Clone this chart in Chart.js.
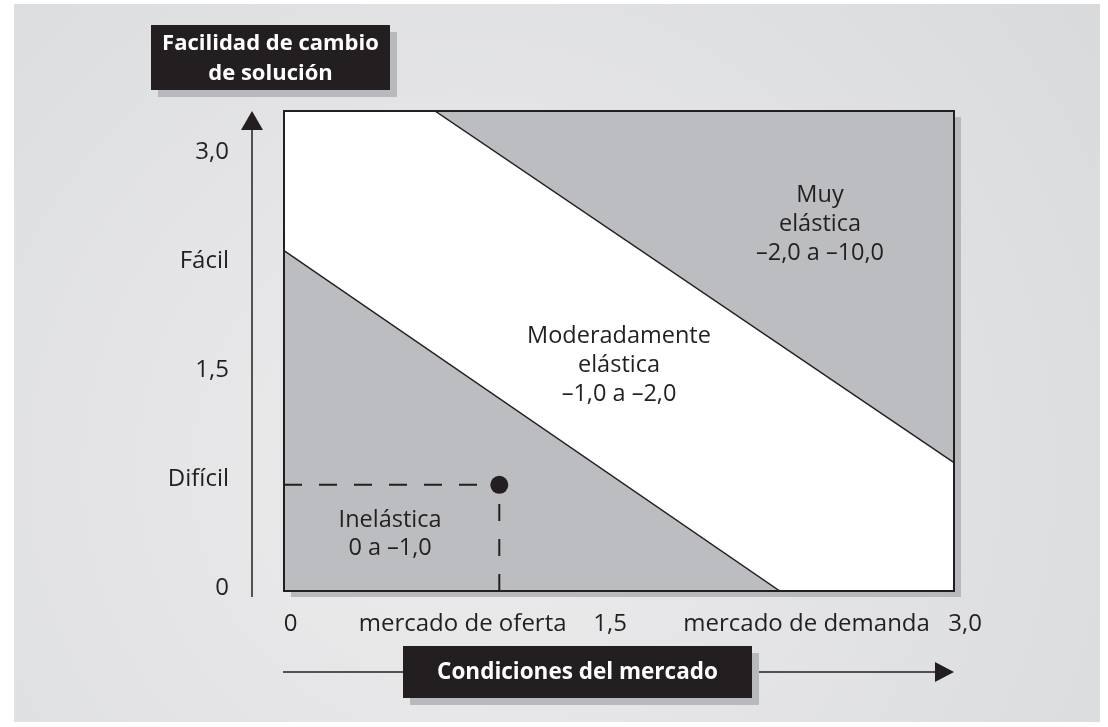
<!DOCTYPE html>
<html>
<head>
<meta charset="utf-8">
<script src="https://cdn.jsdelivr.net/npm/chart.js@4.4.0/dist/chart.umd.min.js"></script>
<style>
  html,body{margin:0;padding:0;background:#fff;}
  #wrap{width:1108px;height:727px;}
</style>
</head>
<body>
<div id="wrap"><canvas id="myChart" width="1108" height="727"></canvas></div>
<script>
// ejes (valores y etiquetas)
const yTickValues = [0, 0.75, 1.5, 2.25, 3.0]
const yTickLabels = ['0', 'Difícil', '1,5', 'Fácil', '3,0']
const xTickValues = [0.03, 0.8, 1.46, 2.34, 3.05]
const xTickLabels = ['0', 'mercado de oferta', '1,5', 'mercado de demanda', '3,0']

// limites de las zonas
const limiteInelastica  = [{x:0, y:2.32}, {x:2.22, y:-0.02}]
const limiteMuyElastica = [{x:0.676, y:3.28}, {x:3.0, y:0.862}]
const punto = [{x:0.964, y:0.71}]
const guiaH = [{x:0, y:0.71}, {x:0.964, y:0.71}]
const guiaV = [{x:0.964, y:-0.02}, {x:0.964, y:0.71}]

// textos de las zonas
const zonaMuy  = ['Muy', 'elástica', '–2,0 a –10,0']
const zonaMod  = ['Moderadamente', 'elástica', '–1,0 a –2,0']
const zonaInel = ['Inelástica', '0 a –1,0']
const tituloY  = ['Facilidad de cambio', 'de solución']
const tituloX  = ['Condiciones del mercado']

const oscuro = '#231f20'
const gris   = '#bcbdc0'
const sombra = '#b8b9bc'
const fuente = "'Open Sans', sans-serif"

function textoMultilinea(c, lineas, x, y, lh){
    lineas.forEach((t,i)=>c.fillText(t, x, y + (i-(lineas.length-1)/2)*lh))
}

function caja(c, x, y, w, h, lineas, lh, tam){
    c.fillStyle = sombra
    c.fillRect(x+7, y+7, w, h)
    c.fillStyle = oscuro
    c.fillRect(x, y, w, h)
    c.fillStyle = '#fff'
    c.font = 'bold ' + tam + 'px ' + fuente
    c.textAlign = 'center'
    c.textBaseline = 'middle'
    textoMultilinea(c, lineas, x+w/2, y+h/2+1, lh)
}

const decorado = {
    id:'decorado',
    beforeDraw(chart){
        const c = chart.ctx, a = chart.chartArea
        c.save()
        c.fillStyle = '#fff'
        c.fillRect(0, 0, chart.width, chart.height)
        const g = c.createRadialGradient(460, 470, 0, 460, 470, 780)
        g.addColorStop(0, '#ececed')
        g.addColorStop(1, '#d9dadc')
        c.fillStyle = g
        c.fillRect(14, 4, 1086, 718)
        c.fillStyle = sombra
        c.fillRect(a.left+7, a.top+6, a.right-a.left, a.bottom-a.top)
        c.fillStyle = '#fff'
        c.fillRect(a.left, a.top, a.right-a.left, a.bottom-a.top)
        c.restore()
    },
    afterDatasetsDraw(chart){
        const c = chart.ctx, a = chart.chartArea
        const sx = chart.scales.x, sy = chart.scales.y
        c.save()
        c.strokeStyle = oscuro
        c.lineWidth = 2
        c.strokeRect(a.left, a.top, a.right-a.left, a.bottom-a.top)
        c.fillStyle = oscuro
        c.font = '23.5px ' + fuente
        c.textAlign = 'center'
        c.textBaseline = 'middle'
        textoMultilinea(c, zonaMuy,  sx.getPixelForValue(2.40), sy.getPixelForValue(2.50), 29)
        textoMultilinea(c, zonaMod,  sx.getPixelForValue(1.50), sy.getPixelForValue(1.53), 29)
        textoMultilinea(c, zonaInel, sx.getPixelForValue(0.475), sy.getPixelForValue(0.37), 28)
        c.restore()
    },
    afterDraw(chart){
        const c = chart.ctx, a = chart.chartArea
        c.save()
        c.strokeStyle = oscuro
        c.fillStyle = oscuro
        c.lineWidth = 1.5
        // flecha eje y
        const ax = a.left - 32
        c.beginPath(); c.moveTo(ax, a.bottom+6); c.lineTo(ax, a.top+15); c.stroke()
        c.beginPath(); c.moveTo(ax, a.top); c.lineTo(ax-11, a.top+19); c.lineTo(ax+11, a.top+19); c.closePath(); c.fill()
        // flecha eje x
        const ay = a.bottom + 81
        c.beginPath(); c.moveTo(a.left-1, ay); c.lineTo(a.right-18, ay); c.stroke()
        c.beginPath(); c.moveTo(a.right, ay); c.lineTo(a.right-19, ay-10); c.lineTo(a.right-19, ay+10); c.closePath(); c.fill()
        caja(c, 151, 25, 239, 65, tituloY, 30, 22)
        caja(c, 403, ay-26, 349, 52, tituloX, 30, 22.5)
        c.restore()
    }
}

const ctx = document.getElementById('myChart')
const tickFont = {family:fuente, size:24}

const myChart = new Chart(ctx, {
    type:'scatter',
    data:{
        datasets:[
            {data:punto, pointRadius:9, pointHoverRadius:9, backgroundColor:oscuro, borderWidth:0},
            {data:guiaH, showLine:true, pointRadius:0, borderColor:oscuro, borderWidth:2, borderDash:[18,17], fill:false},
            {data:guiaV, showLine:true, pointRadius:0, borderColor:oscuro, borderWidth:2, borderDash:[17,18], fill:false},
            {data:limiteInelastica, showLine:true, pointRadius:0, borderColor:oscuro, borderWidth:1.5, backgroundColor:gris, fill:'start'},
            {data:limiteMuyElastica, showLine:true, pointRadius:0, borderColor:oscuro, borderWidth:1.5, backgroundColor:gris, fill:'end'}
        ]
    },
    options:{
        responsive:false,
        animation:false,
        devicePixelRatio:1,
        layout:{padding:{left:0, right:154, top:111, bottom:0}},
        plugins:{legend:{display:false}, tooltip:{enabled:false}},
        scales:{
            x:{
                type:'linear', min:0, max:3,
                grid:{display:false}, border:{display:false},
                ticks:{autoSkip:false, maxRotation:0, padding:11, font:tickFont, color:oscuro,
                       callback:(v,i)=>xTickLabels[i]},
                afterBuildTicks:s=>{s.ticks = xTickValues.map(v=>({value:v}))},
                afterFit:s=>{s.height = 136}
            },
            y:{
                type:'linear', min:-0.02, max:3.28,
                grid:{display:false}, border:{display:false},
                ticks:{autoSkip:false, padding:47, font:tickFont, color:oscuro,
                       callback:(v,i)=>yTickLabels[i]},
                afterBuildTicks:s=>{s.ticks = yTickValues.map(v=>({value:v}))},
                afterFit:s=>{s.width = 284}
            }
        }
    },
    plugins:[decorado]
})
</script>
</body>
</html>
